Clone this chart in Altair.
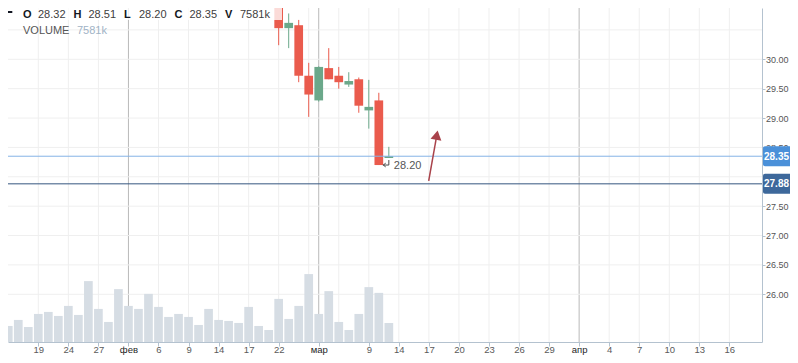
import math
import altair as alt
import pandas as pd

# ---------------- data ----------------
candle_idx = [27, 28, 29, 30, 31, 32, 33, 34, 35, 36, 37, 38]
opens  = [31.05, 30.53, 30.58, 29.72, 29.30, 29.85, 29.72, 29.57, 29.66, 29.13, 29.30, 28.32]
highs  = [31.15, 30.78, 30.67, 29.94, 29.88, 30.19, 29.87, 29.78, 29.69, 29.65, 29.43, 28.51]
lows   = [30.24, 30.19, 29.61, 29.02, 29.28, 29.66, 29.50, 29.53, 29.09, 28.82, 28.20, 28.32]
closes = [30.53, 30.62, 29.72, 29.40, 29.87, 29.66, 29.61, 29.63, 29.21, 29.19, 28.20, 28.35]

volume_k = [6400, 8800, 6000, 11200, 12000, 10400, 14400, 10800, 24300, 13200,
            8000, 21100, 14400, 13200, 19200, 14000, 10000, 11200, 10000, 6800,
            13200, 8800, 8400, 7600, 14000, 6400, 4800, 17200, 9200, 14400,
            27100, 11200, 20300, 8000, 4800, 11200, 21900, 19600, 7581]

tick_idx = [3, 6, 9, 12, 15, 18, 21, 24, 27, 31, 36, 39, 42, 45, 48, 51, 54, 57, 60, 63, 66, 69, 72]
tick_text = ["19", "24", "27", "фев", "6", "9", "14", "17", "22", "мар", "9", "14",
             "17", "20", "23", "26", "29", "апр", "4", "7", "10", "13", "16"]
month_idx = [12, 31, 57]
extra_grid_idx = [30, 33]

price_ticks = [26.0, 26.5, 27.0, 27.5, 28.0, 28.5, 29.0, 29.5, 30.0]
extra_grid_prices = [30.5]

price_lines = [28.35, 27.88]

legend_letters = ["O", "H", "L", "C", "V"]
legend_values = ["28.32", "28.51", "28.20", "28.35", "7581k"]
volume_title = "VOLUME"
volume_value = "7581k"

arrow_idx = [41.98, 42.79]
arrow_price = [27.93, 28.71]

# ---------------- layout ----------------
W, H = 754, 334
RIGHT = 28
BOTTOM = 13
X_DOM = [0.473, 74.76]
Y_DOM = [25.188, 30.873]
V_DOM = [0, 133266]
FONT = "Liberation Sans"

UP = "#6ba88a"
DOWN = "#ea5b4d"
GRID = "#efefef"
MONTH_GRID = "#b9b9b9"
AXIS = "#b4c2cf"

month_list = ",".join(str(m) for m in month_idx)
lab = [""] * (max(tick_idx) + 1)
for i, t in zip(tick_idx, tick_text):
    lab[i] = t
label_expr = "[" + ",".join("'" + t + "'" for t in lab) + "][datum.value]"

xscale = alt.Scale(domain=X_DOM, nice=False, zero=False)
xaxis = alt.Axis(values=tick_idx, labelExpr=label_expr, grid=False, tickSize=4,
                 tickColor=AXIS, domainColor=AXIS, labelFontSize=9.5, labelFont=FONT,
                 labelColor={"condition": {"test": f"indexof([{month_list}], datum.value) >= 0",
                                           "value": "#1e1e1e"}, "value": "#5a5a5a"},
                 labelBaseline="alphabetic", labelPadding=BOTTOM - 4 - 2.3,
                 labelOverlap=False, labelFlush=False, title=None)
yscale = alt.Scale(domain=Y_DOM, nice=False, zero=False)


def X(field):
    return alt.X(field, type="quantitative", scale=xscale, axis=xaxis)


def Y(field, axis=None):
    return alt.Y(field, type="quantitative", scale=yscale, axis=axis)


# vertical grid
vg = pd.DataFrame({
    "i": tick_idx + extra_grid_idx,
    "c": [MONTH_GRID if i in month_idx else GRID for i in tick_idx] + [GRID] * len(extra_grid_idx),
})
vgrid = alt.Chart(vg).mark_rule(strokeWidth=1).encode(
    x=X("i"), y=alt.value(0), y2=alt.value(H), color=alt.Color("c:N", scale=None))

# horizontal grid + right axis
hg = pd.DataFrame({"p": price_ticks + extra_grid_prices})
yaxis = alt.Axis(orient="right", values=price_ticks, format=".2f", grid=False, tickSize=3,
                 tickColor=AXIS, domainColor=AXIS, labelFontSize=9, labelFont=FONT,
                 labelColor="#555555", labelPadding=0.5, title=None, labelOverlap=False)
hgrid = alt.Chart(hg).mark_rule(color=GRID, strokeWidth=1).encode(
    y=Y("p", yaxis), x=alt.value(0), x2=alt.value(W))

# volume
vol = pd.DataFrame({"i": list(range(len(volume_k))), "v": volume_k})
vbars = alt.Chart(vol).mark_bar(size=8.7, color="#d6dde4", clip=True).encode(
    x=X("i"),
    y=alt.Y("v:Q", scale=alt.Scale(domain=V_DOM, nice=False, zero=True), axis=None))

# candles
cd = pd.DataFrame({"i": candle_idx, "o": opens, "h": highs, "l": lows, "c": closes})
cd["col"] = [UP if c >= o else DOWN for o, c in zip(opens, closes)]
wicks = alt.Chart(cd).mark_rule(strokeWidth=1, clip=True).encode(
    x=X("i"), y=Y("l"), y2="h", color=alt.Color("col:N", scale=None))
bodies = alt.Chart(cd).mark_bar(size=8.7, clip=True).encode(
    x=X("i"), y=Y("o"), y2="c", color=alt.Color("col:N", scale=None))

# price lines and boxes
pl = pd.DataFrame({"p": price_lines, "lc": ["#86b3e6", "#35557f"],
                   "bc": ["#4a90d9", "#3d689b"],
                   "t": [f"{p:.2f}" for p in price_lines]})
plines = alt.Chart(pl).mark_rule(strokeWidth=1).encode(
    y=Y("p"), x=alt.value(0), x2=alt.value(W), color=alt.Color("lc:N", scale=None))
pboxes = alt.Chart(pl).mark_rect(yOffset=-10, y2Offset=10, cornerRadius=2).encode(
    y=Y("p"), y2="p", x=alt.value(W + 1), x2=alt.value(W + RIGHT + 2),
    color=alt.Color("bc:N", scale=None))
ptext = alt.Chart(pl).mark_text(font=FONT, fontSize=10, fontWeight="bold", color="white",
                                align="center", baseline="middle", dy=0.5).encode(
    y=Y("p"), x=alt.value(W + 14.5), text="t:N")

# low marker
lo_pos = min(range(len(lows)), key=lambda k: lows[k])
low_df = pd.DataFrame({"i": [candle_idx[lo_pos] + 1], "p": [lows[lo_pos]],
                       "t": [f"{lows[lo_pos]:.2f}"]})
mk_col = "#4a4a4a"
low_h = alt.Chart(low_df).mark_rule(color=mk_col, strokeWidth=1, x2Offset=-6).encode(
    x=X("i"), x2="i", y=Y("p"), y2="p")
low_v = alt.Chart(low_df).mark_rule(color=mk_col, strokeWidth=1, y2Offset=-5).encode(
    x=X("i"), y=Y("p"), y2="p")
low_head = alt.Chart(low_df).mark_point(shape="M1,-1L-0.3,0L1,1", size=14, filled=False,
                                        color=mk_col, strokeWidth=1, xOffset=-5, opacity=1).encode(
    x=X("i"), y=Y("p"))
low_txt = alt.Chart(low_df).mark_text(font=FONT, fontSize=11, color="#555555", align="left",
                                      baseline="middle", dx=5, dy=1).encode(
    x=X("i"), y=Y("p"), text="t:N")

# arrow drawing
ar = pd.DataFrame({"i": arrow_idx, "p": arrow_price, "k": [0, 1]})
arrow_col = "#a9434b"
px_i = W / (X_DOM[1] - X_DOM[0])
px_p = H / (Y_DOM[1] - Y_DOM[0])
ang = math.degrees(math.atan2((arrow_idx[1] - arrow_idx[0]) * px_i,
                              (arrow_price[1] - arrow_price[0]) * px_p))
aline = alt.Chart(ar).mark_line(color=arrow_col, strokeWidth=1.5).encode(
    x=X("i"), y=Y("p"), order="k:Q")
ahead = alt.Chart(ar.iloc[[1]]).mark_point(shape="triangle-up", size=120, filled=True,
                                          color=arrow_col, opacity=1, angle=round(ang, 1)).encode(
    x=X("i"), y=Y("p"))

# legend overlay
one = pd.DataFrame({"a": [0]})
overlay = alt.Chart(one).mark_rect(color="white", opacity=0.78).encode(
    x=alt.value(0), x2=alt.value(274), y=alt.value(0), y2=alt.value(12))
dash = alt.Chart(one).mark_rule(color="#131722", strokeWidth=2).encode(
    x=alt.value(0), x2=alt.value(4.3), y=alt.value(4))
lg = pd.DataFrame({"L": legend_letters, "V": legend_values})
lg["xl"] = [15 + 50.5 * k for k in range(len(lg))]
lg["xv"] = lg["xl"] + 15
lg_letters = alt.Chart(lg).mark_text(font=FONT, fontSize=11, fontWeight="bold", color="#131722",
                                     align="left", baseline="middle").encode(
    x=alt.X("xl:Q", scale=None), y=alt.value(6.5), text="L:N")
lg_values = alt.Chart(lg).mark_text(font=FONT, fontSize=11, color="#404040",
                                    align="left", baseline="middle").encode(
    x=alt.X("xv:Q", scale=None), y=alt.value(6.5), text="V:N")
vt = pd.DataFrame({"t": [volume_title, volume_value], "c": ["#555555", "#9fb3c6"]})
vt["x"] = [15, 69]
vol_txt = alt.Chart(vt).mark_text(font=FONT, fontSize=11, align="left", baseline="middle").encode(
    x=alt.X("x:Q", scale=None), y=alt.value(23), text="t:N", color=alt.Color("c:N", scale=None))

chart = alt.layer(
    vgrid, hgrid, vbars, wicks, bodies, plines, pboxes, ptext,
    low_h, low_v, low_head, low_txt, aline, ahead,
    overlay, dash, lg_letters, lg_values, vol_txt,
).resolve_scale(y="independent").properties(
    width=W, height=H,
    autosize=alt.AutoSizeParams(type="none"),
    padding={"left": 0, "top": 0, "right": RIGHT, "bottom": BOTTOM},
    background="white",
).configure_view(stroke=None)

chart.save("out.html", embed_options={"renderer": "svg", "actions": False})
